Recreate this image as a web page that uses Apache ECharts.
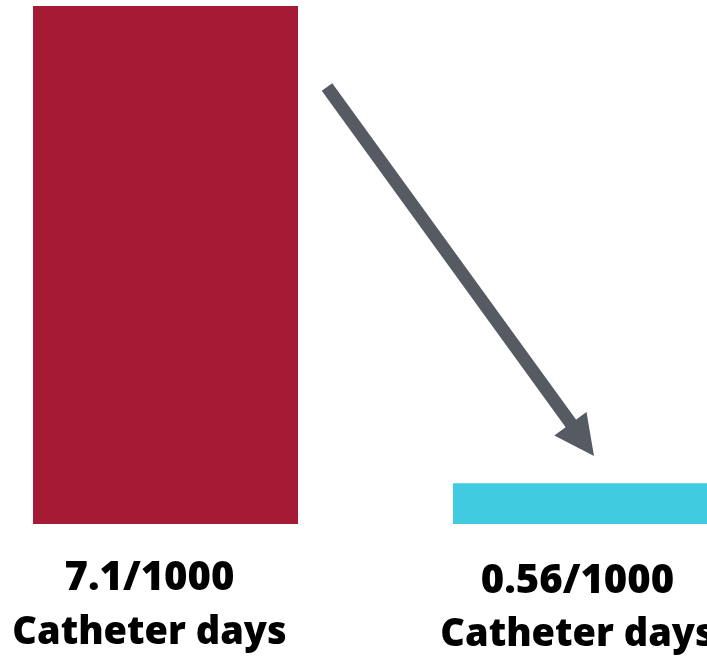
<!DOCTYPE html>
<html>
<head>
<meta charset="utf-8">
<script src="https://cdn.jsdelivr.net/npm/echarts@6/dist/echarts.min.js"></script>
<style>
html,body{margin:0;padding:0;background:#fff;}
#c{width:707px;height:661px;}
</style>
</head>
<body>
<div id="c"></div>
<script>
const categories = ['7.1/1000\nCatheter days', '0.56/1000\nCatheter days'];
const values = [7.1, 0.56];
const barColors = ['#A51B35', '#41CBE1'];

const chart = echarts.init(document.getElementById('c'), null, {renderer: 'canvas'});
const arrowColor = '#555A63';
const base = {fontFamily: 'Open Sans', fontWeight: 800, lineHeight: 54, color: '#000'};
const option = {
  animation: false,
  backgroundColor: '#ffffff',
  grid: {left: 165.5, width: 420, top: 6, bottom: 137, containLabel: false, outerBoundsMode: 'none'},
  xAxis: {
    type: 'category',
    boundaryGap: false,
    data: categories,
    axisLine: {show: false},
    axisTick: {show: false},
    axisLabel: {
      margin: 28,
      interval: 0,
      hideOverlap: false,
      formatter: function (v, i) {
        const lines = v.split('\n');
        const s = i === 0 ? 'a' : 'b';
        return lines.map((l, k) => '{' + s + (k + 1) + '|' + l + '}').join('\n');
      },
      rich: {
        a1: Object.assign({}, base, {fontSize: 40, padding: [0, 32, 0, 0]}),
        a2: Object.assign({}, base, {fontSize: 38, padding: [0, 32, 0, 0]}),
        b1: Object.assign({}, base, {fontSize: 40, padding: [5, 16, 0, 0]}),
        b2: Object.assign({}, base, {fontSize: 38, padding: [5, 16, 0, 0]})
      }
    }
  },
  yAxis: {
    type: 'value',
    min: 0,
    max: 7.1,
    show: false,
    splitLine: {show: false}
  },
  series: [{
    type: 'bar',
    barWidth: 265,
    clip: false,
    data: values.map((v, i) => ({value: v, itemStyle: {color: barColors[i]}}))
  }],
  graphic: [
    {type: 'line', shape: {x1: 327, y1: 87, x2: 572, y2: 425}, style: {stroke: arrowColor, lineWidth: 13, lineCap: 'butt'}},
    {type: 'polygon', shape: {points: [[594, 456], [554.3, 435.5], [586.5, 411.9]]}, style: {fill: arrowColor}}
  ]
};
chart.setOption(option);
</script>
</body>
</html>
